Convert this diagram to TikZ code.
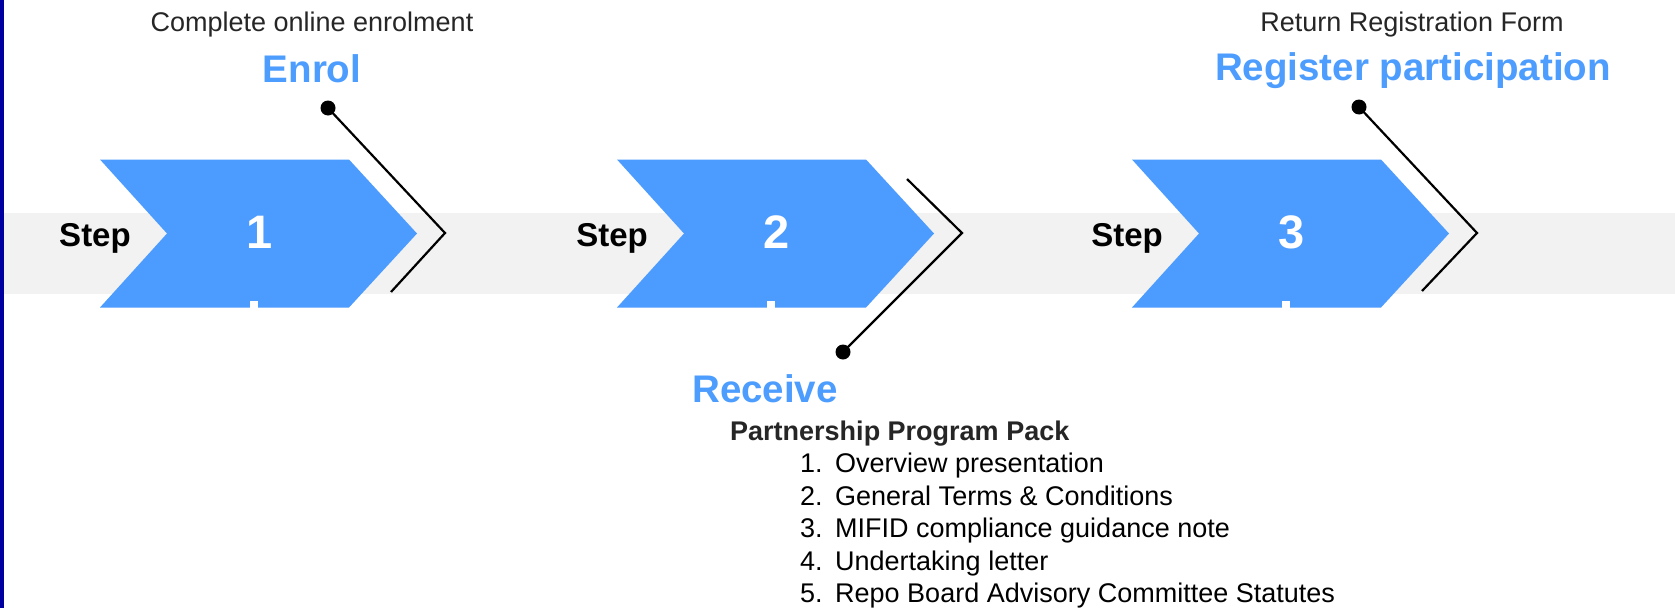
\documentclass[tikz,border=0pt]{standalone}
\usepackage{fontspec}
\setmainfont{Liberation Sans}
\definecolor{chevblue}{HTML}{4C9BFF}
\definecolor{titleblue}{HTML}{4D9DFF}
\definecolor{darktext}{HTML}{262626}
\definecolor{bandgray}{HTML}{F2F2F2}
\definecolor{navybar}{HTML}{0000A0}
\tikzset{
  subtext/.style={inner sep=0pt, anchor=base, text=darktext, font=\fontsize{27}{32}\selectfont},
  headtext/.style={inner sep=0pt, anchor=base, text=titleblue, font=\bfseries\fontsize{38.5}{44}\selectfont},
  steplabel/.style={inner sep=0pt, anchor=base, text=black, font=\bfseries\fontsize{33}{38}\selectfont},
  stepnum/.style={inner sep=0pt, anchor=base, text=white, font=\bfseries\fontsize{47}{52}\selectfont},
  packtitle/.style={inner sep=0pt, anchor=base west, text=darktext, font=\bfseries\fontsize{27}{32}\selectfont},
  listitem/.style={inner sep=0pt, anchor=base west, text=black, font=\fontsize{27}{32}\selectfont},
  chevron/.style={fill=chevblue},
  bracketline/.style={draw=black, line width=2.2pt, line join=miter},
  dotnode/.style={circle, fill=black, inner sep=0pt, minimum size=15pt}
}
\begin{document}
\begin{tikzpicture}[x=1pt,y=-1pt]
\useasboundingbox (0,0) rectangle (1675,608);
\fill[white] (0,0) rectangle (1675,608);
% grey band and left bar
\fill[bandgray] (4,213) rectangle (1675,294);
\fill[navybar] (0,0) rectangle (4,608);
% chevrons, step labels, numbers
\foreach \o/\n in {0/1,517/2,1032/3}{
  \fill[chevron] (100+\o,159.5) -- (349+\o,159.5) -- (417+\o,233.5) -- (349+\o,307.5) -- (100+\o,307.5) -- (167+\o,233.5) -- cycle;
  \node[steplabel] (step\n) at (95+\o,246) {Step};
  \node[stepnum] (num\n) at (260+\o,248) {\n};
  \fill[white] (250+\o,301) rectangle (258+\o,307.5);
}
% texts
\node[subtext] (sub1) at (312,31) {Complete online enrolment};
\node[headtext] (head1) at (312,82) {Enrol};
\node[subtext] (sub3) at (1412,31) {Return Registration Form};
\node[headtext] (head3) at (1413,80) {Register participation};
\node[headtext, anchor=base west] (head2) at (692,402) {Receive};
\node[packtitle] (pack) at (730,440) {Partnership Program Pack};
\node[listitem] (l1) at (800,472) {\makebox[35pt][l]{1.}Overview presentation};
\node[listitem] (l2) at (800,505) {\makebox[35pt][l]{2.}General Terms \& Conditions};
\node[listitem] (l3) at (800,537) {\makebox[35pt][l]{3.}MIFID compliance guidance note};
\node[listitem] (l4) at (800,570) {\makebox[35pt][l]{4.}Undertaking letter};
\node[listitem] (l5) at (800,602) {\makebox[35pt][l]{5.}Repo Board Advisory Committee Statutes};
% bracket connectors
\coordinate (k1) at (445,233);
\coordinate (e1) at (391,292);
\coordinate (s2) at (907,179);
\coordinate (k2) at (962,233);
\coordinate (k3) at (1477,233);
\coordinate (e3) at (1422,291);
\node[dotnode] (d1) at (328,108) {};
\node[dotnode] (d2) at (843,352) {};
\node[dotnode] (d3) at (1359,107) {};
\draw[bracketline] (d1.center) -- (k1) -- (e1);
\draw[bracketline] (s2) -- (k2) -- (d2.center);
\draw[bracketline] (d3.center) -- (k3) -- (e3);
\end{tikzpicture}
\end{document}
